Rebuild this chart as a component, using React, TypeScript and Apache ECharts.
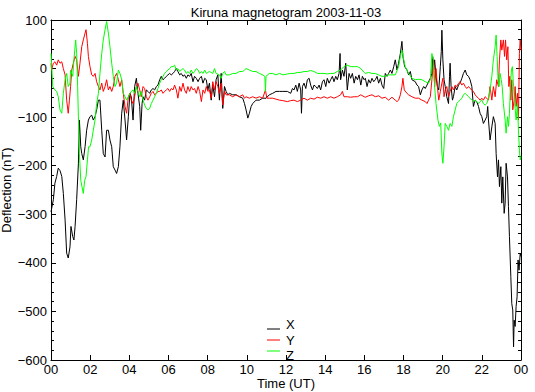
import React, { useEffect, useRef } from "react";
import * as echarts from "echarts";

const TITLE = "Kiruna magnetogram 2003-11-03";
const X_NAME = "Time (UT)";
const Y_NAME = "Deflection (nT)";
const SERIES_NAMES = ["X", "Y", "Z"];
const SERIES_COLORS = ["#000000", "#ff0000", "#00ff00"];

// [time in hours UT, deflection nT]
const xData: number[][] = [
  [0,-295],[0.12,-270],[0.2,-236],[0.29,-222],[0.37,-205],[0.46,-210],[0.55,-222],[0.63,-257],[0.72,-312],[0.8,-380],[0.88,-390],[0.97,-367],[1.02,-325],[1.11,-346],[1.17,-353],[1.23,-325],[1.31,-270],[1.4,-195],[1.45,-106],[1.52,-161],[1.57,-175],[1.65,-188],[1.74,-161],[1.82,-127],[1.91,-106],[1.99,-99],[2.08,-96],[2.16,-106],[2.25,-99],[2.33,-85],[2.42,-65],[2.5,-65],[2.59,-127],[2.67,-175],[2.76,-182],[2.84,-127],[2.93,-127],[3.01,-147],[3.1,-161],[3.18,-202],[3.27,-209],[3.35,-216],[3.44,-202],[3.52,-161],[3.61,-92],[3.69,-65],[3.78,-106],[3.86,-147],[3.95,-99],[4.03,-51],
  [4.10,-58],[4.19,-106],[4.27,-37],[4.36,-20],[4.44,-51],[4.53,-78],[4.58,-127],[4.65,-72],[4.70,-58],[4.78,-65],[4.87,-44],[4.95,-47],[5.04,-51],[5.12,-44],[5.21,-41],[5.29,-44],[5.38,-37],[5.46,-34],[5.55,-23],[5.63,-16],[5.72,-23],[5.80,-20],[5.89,-16],[5.97,-13],[6.06,-10],[6.14,-13],[6.23,-10],[6.31,-6],[6.40,0],[6.48,-6],[6.57,-13],[6.65,-10],[6.74,-16],[6.82,-13],[6.91,-20],[6.99,-13],[7.08,-16],[7.16,-10],[7.25,-27],[7.33,-16],[7.42,-20],[7.51,-27],[7.59,-20],[7.68,-16],[7.76,-30],[7.85,-20],[7.93,-23],
  [8.01,-44],[8.09,-30],[8.18,-65],[8.26,-34],[8.35,-58],[8.43,-23],[8.52,-13],[8.60,-65],[8.69,-10],[8.77,-82],[8.86,-37],[8.94,-47],[9.03,-54],[9.11,-51],[9.28,-54],[9.45,-54],[9.62,-58],[9.79,-61],[9.88,-72],[9.96,-85],[10.05,-102],[10.13,-92],[10.22,-78],[10.30,-72],[10.47,-65],[10.64,-65],[10.81,-61],[10.98,-61],[11.15,-54],[11.32,-51],[11.49,-47],[11.67,-47],[11.84,-47],
  [12.07,-47],[12.24,-51],[12.33,-41],[12.41,-44],[12.50,-34],[12.58,-47],[12.67,-30],[12.75,-44],[12.79,-92],[12.84,-37],[12.92,-30],[13.01,-41],[13.09,-23],[13.18,-20],[13.26,-34],[13.35,-44],[13.43,-34],[13.52,-37],[13.60,-41],[13.69,-34],[13.77,-44],[13.86,-27],[13.94,-23],[14.03,-37],[14.11,-20],[14.20,-30],[14.28,-23],[14.37,-16],[14.45,-27],[14.54,-16],[14.62,-23],[14.71,-10],[14.76,31],[14.79,-23],[14.88,-3],[14.96,-16],[15.05,11],[15.13,-44],[15.22,-10],[15.30,-20],[15.39,-10],[15.48,-30],[15.56,-16],[15.65,-23],[15.73,-13],[15.82,-34],[15.90,-16],[15.99,-23],
  [16.05,-20],[16.14,-37],[16.22,-23],[16.31,-30],[16.39,-20],[16.48,-27],[16.56,-23],[16.65,-16],[16.73,-30],[16.82,-20],[16.90,-34],[16.99,-41],[17.07,-10],[17.16,-16],[17.24,-10],[17.33,-3],[17.41,-10],[17.50,4],[17.58,18],[17.67,-3],[17.75,11],[17.84,31],[17.92,56],[17.97,25],[18.06,4],[18.18,-3],[18.26,-13],[18.35,-6],[18.43,-23],[18.60,-27],[18.69,-34],[18.77,-37],[18.86,-54],[18.94,-44],[19.03,-37],[19.11,-41],[19.20,-34],[19.28,-27],[19.37,-20],[19.45,-10],[19.49,25],[19.54,-3],[19.59,18],[19.66,-16],[19.73,-37],[19.80,-44],[19.88,4],[19.93,35],[19.96,79],[20.01,18],
  [20.07,-23],[20.13,-37],[20.21,-58],[20.30,-72],[20.35,-16],[20.38,11],[20.43,-37],[20.50,-65],[20.55,-58],[20.64,-37],[20.72,-44],[20.81,-34],[20.89,-30],[20.98,-20],[21.06,-10],[21.15,-3],[21.23,-13],[21.32,-16],[21.40,-23],[21.49,-37],[21.57,-78],[21.61,-72],[21.66,-65],[21.74,-68],[21.83,-78],[21.91,-92],[22.00,-99],[22.08,-113],[22.17,-106],[22.25,-99],[22.30,-78],[22.34,-106],[22.42,-147],[22.51,-120],[22.59,-99],[22.68,-113],[22.73,-175],[22.80,-223],[22.85,-188],[22.90,-243],[22.97,-202],[23.02,-277],[23.07,-223],[23.14,-298],[23.19,-277],[23.24,-195],[23.31,-223],[23.36,-284],[23.41,-346],[23.48,-428],[23.53,-484],[23.58,-497],[23.62,-573],[23.65,-518],[23.70,-531],[23.75,-490],[23.80,-470],[23.85,-394],[23.90,-415],[23.96,-380],[24.0,-387],
];

const yData: number[][] = [
  [0,11],[0.03,-3],[0.12,11],[0.2,14],[0.29,7],[0.37,18],[0.46,11],[0.55,14],[0.63,0],[0.72,-13],[0.8,-65],[0.88,-92],[0.94,-65],[1.0,-37],[1.06,-3],[1.14,11],[1.23,25],[1.31,18],[1.4,-16],[1.48,11],[1.57,45],[1.65,59],[1.74,73],[1.79,80],[1.86,52],[1.91,25],[1.99,4],[2.08,-13],[2.16,-16],[2.25,-10],[2.33,-27],[2.42,-37],[2.5,-44],[2.59,-30],[2.67,-47],[2.76,-37],[2.84,-23],[2.93,-44],[3.01,-37],[3.1,-47],[3.18,-37],[3.27,-16],[3.35,-10],[3.44,-23],[3.52,-37],[3.61,-23],[3.69,-51],[3.78,-78],[3.86,-92],[3.95,-58],[4.03,-51],
  [4.10,-65],[4.19,-72],[4.27,-58],[4.36,-37],[4.44,-30],[4.53,-44],[4.61,-58],[4.70,-37],[4.78,-41],[4.87,-58],[4.95,-65],[5.04,-58],[5.12,-51],[5.21,-47],[5.29,-54],[5.38,-51],[5.46,-47],[5.55,-47],[5.63,-44],[5.72,-51],[5.80,-47],[5.89,-44],[5.97,-41],[6.06,-47],[6.14,-41],[6.23,-44],[6.31,-34],[6.40,-44],[6.48,-61],[6.57,-37],[6.65,-47],[6.74,-30],[6.82,-44],[6.91,-51],[6.99,-37],[7.08,-47],[7.16,-37],[7.25,-44],[7.33,-41],[7.42,-51],[7.51,-37],[7.59,-47],[7.68,-68],[7.76,-44],[7.85,-51],[7.93,-37],
  [8.01,-47],[8.09,-44],[8.18,-61],[8.26,-27],[8.35,-44],[8.43,-27],[8.52,-37],[8.60,-51],[8.69,-30],[8.77,-75],[8.86,-47],[8.94,-54],[9.11,-54],[9.28,-58],[9.45,-54],[9.62,-58],[9.79,-54],[9.88,-61],[9.96,-58],[10.13,-61],[10.30,-58],[10.47,-61],[10.64,-58],[10.81,-61],[10.95,-44],[11.02,-61],[11.15,-61],[11.32,-61],[11.49,-63],[11.67,-65],[11.84,-66],
  [12.07,-68],[12.24,-66],[12.41,-65],[12.58,-68],[12.75,-65],[12.92,-61],[13.09,-65],[13.26,-61],[13.43,-63],[13.60,-59],[13.77,-61],[13.94,-58],[14.11,-61],[14.28,-58],[14.45,-61],[14.62,-58],[14.79,-54],[14.88,-47],[14.96,-58],[15.13,-58],[15.30,-59],[15.48,-58],[15.65,-58],[15.82,-54],[15.99,-58],
  [16.05,-59],[16.22,-56],[16.39,-54],[16.56,-58],[16.73,-56],[16.90,-61],[17.07,-59],[17.24,-65],[17.41,-59],[17.58,-65],[17.67,-68],[17.75,-65],[17.84,-54],[17.92,-37],[17.97,-20],[18.04,-44],[18.18,-51],[18.26,-54],[18.43,-58],[18.60,-61],[18.77,-61],[18.94,-65],[19.11,-68],[19.20,-72],[19.28,-65],[19.37,-58],[19.45,-23],[19.54,18],[19.59,-37],[19.66,0],[19.73,-37],[19.80,-65],[19.88,-47],[19.96,-30],[20.01,-20],
  [20.07,-58],[20.13,-44],[20.21,-37],[20.30,-58],[20.38,-47],[20.47,-37],[20.55,-44],[20.64,-34],[20.72,-37],[20.81,-30],[20.89,-27],[20.98,-34],[21.06,-30],[21.15,-37],[21.23,-41],[21.32,-37],[21.40,-41],[21.49,-44],[21.57,-47],[21.66,-54],[21.74,-58],[21.83,-61],[21.91,-65],[22.00,-61],[22.08,-65],[22.17,-58],[22.25,-61],[22.34,-65],[22.42,-37],[22.51,-65],[22.59,-37],[22.68,-58],[22.76,-23],[22.85,-37],[22.90,18],[22.97,59],[23.02,38],[23.10,59],[23.16,25],[23.21,59],[23.27,18],[23.33,45],[23.38,-37],[23.43,-16],[23.48,-65],[23.53,-23],[23.58,-85],[23.65,-65],[23.70,-37],[23.75,-78],[23.82,-51],[23.87,-106],[23.92,31],[23.96,59],[24.0,38],
];

const zData: number[][] = [
  [0,31],[0.09,-37],[0.2,-44],[0.29,-47],[0.37,-58],[0.46,-85],[0.55,-92],[0.63,-51],[0.72,-23],[0.8,-10],[0.88,-37],[0.97,-30],[1.0,-3],[1.11,-16],[1.17,18],[1.26,59],[1.31,31],[1.36,-37],[1.4,-99],[1.45,-175],[1.52,-230],[1.58,-243],[1.65,-257],[1.72,-230],[1.79,-222],[1.86,-188],[1.92,-161],[1.99,-161],[2.08,-147],[2.16,-127],[2.25,-106],[2.33,-72],[2.42,-51],[2.5,-10],[2.59,31],[2.67,59],[2.76,80],[2.84,97],[2.93,73],[3.01,45],[3.1,11],[3.18,-16],[3.27,-37],[3.35,-30],[3.44,-3],[3.52,-10],[3.61,-23],[3.69,-51],[3.78,-58],[3.86,-65],[3.95,-58],[4.03,-51],
  [4.10,-47],[4.19,-44],[4.27,-51],[4.36,-37],[4.44,-47],[4.53,-58],[4.61,-47],[4.70,-65],[4.78,-75],[4.87,-82],[4.95,-85],[5.04,-82],[5.12,-72],[5.21,-65],[5.29,-58],[5.38,-51],[5.46,-41],[5.55,-30],[5.63,-23],[5.72,-16],[5.80,-10],[5.89,-6],[5.97,-3],[6.06,0],[6.14,4],[6.23,4],[6.31,7],[6.40,-3],[6.48,0],[6.57,-6],[6.65,-3],[6.74,0],[6.82,-3],[6.91,-10],[6.99,-6],[7.08,-10],[7.16,-3],[7.25,-10],[7.33,-6],[7.42,0],[7.51,-3],[7.59,-10],[7.68,-6],[7.76,-10],[7.85,-3],[7.93,-10],
  [8.01,-8],[8.09,-6],[8.26,-10],[8.35,0],[8.43,-10],[8.60,-13],[8.69,-20],[8.77,-10],[8.86,-6],[8.94,-13],[9.11,-13],[9.28,-10],[9.45,-10],[9.62,-6],[9.79,-6],[9.88,-3],[9.96,0],[10.13,-3],[10.30,-6],[10.47,-6],[10.64,-10],[10.81,-13],[10.92,-16],[10.95,-47],[10.98,-16],[11.15,-10],[11.32,-10],[11.49,-13],[11.67,-10],[11.84,-13],
  [12.07,-11],[12.24,-10],[12.41,-10],[12.58,-8],[12.75,-8],[12.92,-6],[13.09,-6],[13.26,-4],[13.43,-6],[13.60,-10],[13.77,-10],[13.94,-10],[14.11,-11],[14.28,-10],[14.45,-10],[14.62,-6],[14.79,-3],[14.96,4],[15.13,7],[15.30,4],[15.48,4],[15.65,4],[15.82,0],[15.99,-8],
  [16.05,-10],[16.22,-8],[16.39,-10],[16.56,-10],[16.73,-13],[16.90,-16],[17.07,-16],[17.24,-13],[17.41,-13],[17.58,-13],[17.75,4],[17.84,25],[17.92,38],[18.01,18],[18.09,4],[18.26,-10],[18.43,-20],[18.60,-23],[18.77,-22],[18.94,-23],[19.11,-27],[19.28,-30],[19.37,-23],[19.45,31],[19.51,18],[19.59,-37],[19.66,-72],[19.76,-106],[19.83,-119],[19.90,-112],[19.96,-175],[20.01,-195],
  [20.07,-161],[20.13,-113],[20.21,-119],[20.30,-127],[20.38,-113],[20.47,-119],[20.55,-99],[20.64,-85],[20.72,-72],[20.81,-68],[20.89,-65],[20.98,-61],[21.06,-54],[21.15,-51],[21.23,-54],[21.32,-58],[21.40,-61],[21.49,-65],[21.57,-68],[21.66,-65],[21.74,-68],[21.83,-72],[21.91,-68],[22.00,-65],[22.08,-72],[22.17,-75],[22.25,-72],[22.34,-61],[22.42,-44],[22.51,-16],[22.59,18],[22.68,45],[22.73,69],[22.78,25],[22.83,-23],[22.88,-37],[22.93,-10],[22.99,-23],[23.04,-37],[23.10,-72],[23.19,-106],[23.24,-133],[23.31,-99],[23.36,-119],[23.41,-92],[23.46,-37],[23.51,-3],[23.56,4],[23.62,-37],[23.68,-72],[23.75,-106],[23.82,-72],[23.87,-127],[23.92,-168],[23.96,-188],[24.0,-181],
];

const X_MIN = 0;
const X_MAX = 24;
const X_STEP = 2;
const Y_MIN = -600;
const Y_MAX = 100;
const Y_STEP = 100;

const FONT = "Liberation Sans, Arial, Helvetica, sans-serif";

export default function App() {
  const ref = useRef<HTMLDivElement>(null);
  useEffect(() => {
    if (!ref.current) return;
    const chart = echarts.init(ref.current, undefined, { renderer: "svg" });
    const fmtY = (v: number) => String(v).replace("-", "\u2212");
    const fmtX = (v: number) => String(v % 24).padStart(2, "0");
    const common = { min: X_MIN, max: X_MAX, interval: X_STEP };
    const yCommon = { min: Y_MIN, max: Y_MAX, interval: Y_STEP };
    const line = { show: true, onZero: false, lineStyle: { color: "#000", width: 1 } };
    const tick = { show: true, inside: true, length: 5, lineStyle: { color: "#000" } };
    const minor = { show: true, splitNumber: 5, length: 3, lineStyle: { color: "#000" } };

    // legend drawn as graphic: short line + label per series
    const legendLineY = [12, 23, 34];
    const legendTextY = [7.5, 23, 38.5];
    const legendChildren: any[] = [];
    SERIES_NAMES.forEach((name, i) => {
      legendChildren.push({
        type: "line",
        shape: { x1: 0, y1: legendLineY[i], x2: 13, y2: legendLineY[i] },
        style: { stroke: SERIES_COLORS[i], lineWidth: 1 },
      });
      legendChildren.push({
        type: "text",
        x: 19,
        y: legendTextY[i],
        style: {
          text: name,
          fill: "#000",
          font: `13px ${FONT}`,
          textAlign: "left",
          textVerticalAlign: "middle",
        },
      });
    });

    chart.setOption({
      animation: false,
      backgroundColor: "#fff",
      textStyle: { fontFamily: FONT },
      grid: { left: 51, right: 14, top: 20, bottom: 32, outerBoundsMode: "none", containLabel: false },
      graphic: [
        {
          type: "text",
          x: 286,
          y: 12,
          style: {
            text: TITLE,
            fill: "#000",
            font: `13px ${FONT}`,
            textAlign: "center",
            textVerticalAlign: "middle",
          },
        },
        { type: "group", x: 267, y: 317, children: legendChildren },
      ],
      xAxis: [
        {
          type: "value",
          ...common,
          position: "bottom",
          name: X_NAME,
          nameLocation: "middle",
          nameGap: 17,
          nameMoveOverlap: false,
          nameTextStyle: { fontFamily: FONT, fontSize: 13, lineHeight: 13, color: "#000" },
          axisLine: line,
          axisTick: tick,
          axisLabel: { formatter: fmtX, color: "#000", fontSize: 13, lineHeight: 13, fontFamily: FONT, margin: 3 },
          splitLine: { show: false },
        },
        {
          type: "value",
          ...common,
          position: "top",
          axisLine: line,
          axisTick: tick,
          axisLabel: { show: false },
          splitLine: { show: false },
        },
      ],
      yAxis: [
        {
          type: "value",
          ...yCommon,
          position: "left",
          name: Y_NAME,
          nameLocation: "middle",
          nameGap: 38,
          nameMoveOverlap: false,
          nameTextStyle: { fontFamily: FONT, fontSize: 13, color: "#000" },
          axisLine: line,
          axisTick: tick,
          minorTick: minor,
          axisLabel: { formatter: fmtY, color: "#000", fontSize: 13, fontFamily: FONT, margin: 4 },
          splitLine: { show: false },
        },
        {
          type: "value",
          ...yCommon,
          position: "right",
          axisLine: line,
          axisTick: tick,
          minorTick: minor,
          axisLabel: { show: false },
          splitLine: { show: false },
        },
      ],
      series: [xData, yData, zData].map((d, i) => ({
        name: SERIES_NAMES[i],
        type: "line",
        data: d,
        color: SERIES_COLORS[i],
        showSymbol: false,
        symbol: "none",
        lineStyle: { width: 1, color: SERIES_COLORS[i] },
        xAxisIndex: 0,
        yAxisIndex: 0,
      })),
    });
    return () => chart.dispose();
  }, []);
  return (
    <div
      ref={ref}
      style={{ position: "absolute", left: 0, top: 0, width: 535, height: 392 }}
    />
  );
}
